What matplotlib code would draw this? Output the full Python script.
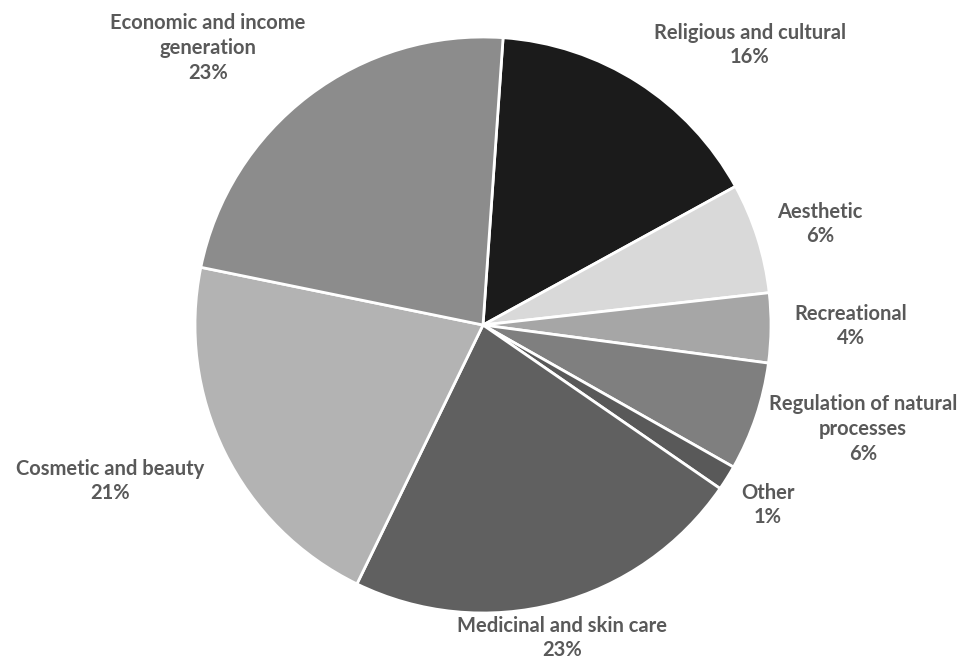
import matplotlib.pyplot as plt

# data, clockwise from 12 o'clock
categories = ["Religious and cultural", "Aesthetic", "Recreational",
              "Regulation of natural\nprocesses", "Other", "Medicinal and skin care",
              "Cosmetic and beauty", "Economic and income\ngeneration"]
shares = [15.9, 6.2, 3.9, 6.1, 1.4, 22.6, 21.0, 22.9]
colors = ["#1b1b1b", "#d9d9d9", "#a6a6a6", "#7f7f7f", "#595959", "#606060",
          "#b3b3b3", "#8c8c8c"]

# label centres in pixel coords (x, y from top)
label_pos = [(750, 45), (820, 224), (851, 326), (863, 429), (768, 505),
             (562, 638), (110, 481), (208, 48)]

W, H = 965, 660
fig = plt.figure(figsize=(W / 100, H / 100), dpi=100, facecolor="white")
ax = fig.add_axes([0, 0, 1, 1])
ax.set_xlim(0, W)
ax.set_ylim(0, H)
ax.set_aspect("equal")
ax.axis("off")

ax.pie(shares, colors=colors, startangle=86, counterclock=False,
       center=(483, H - 325), radius=288,
       wedgeprops=dict(edgecolor="white", linewidth=2))

for name, val, (x, y) in zip(categories, shares, label_pos):
    ax.text(x, H - y, f"{name}\n{round(val)}%", ha="center", va="center",
            fontsize=14.5, fontweight="bold", family="Lato", color="#595959",
            linespacing=1.3)

ax.set_xlim(0, W)
ax.set_ylim(0, H)

fig.savefig("out.png", dpi=100, facecolor="white")
